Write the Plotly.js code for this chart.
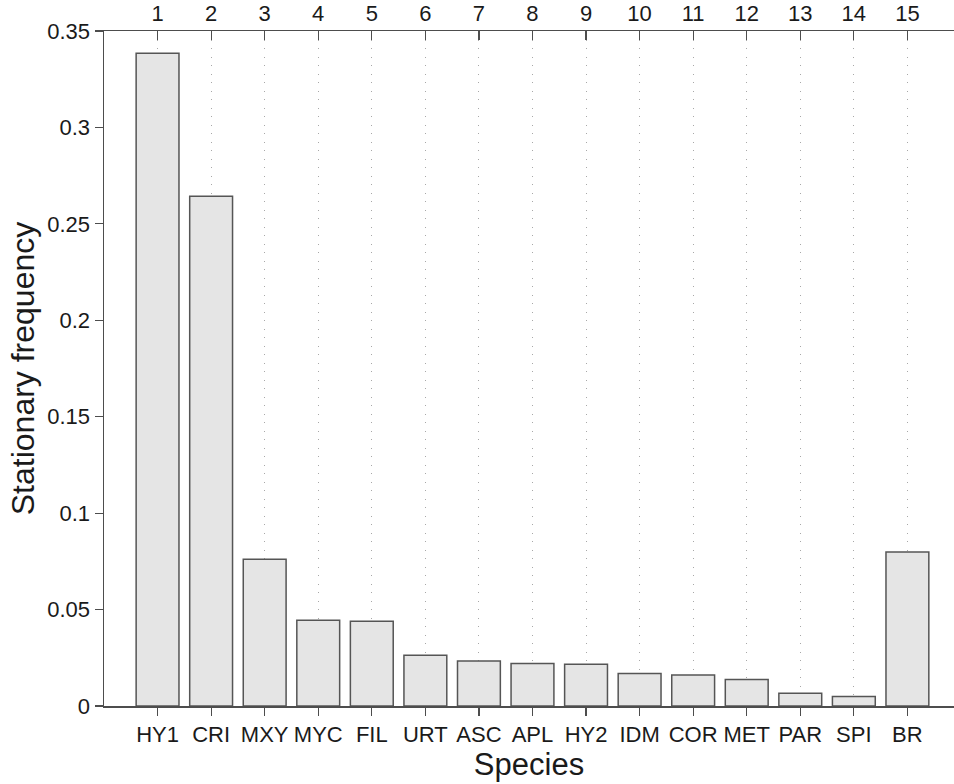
<!DOCTYPE html>
<html>
<head>
<meta charset="utf-8">
<script src="https://cdn.plot.ly/plotly-3.0.1.min.js"></script>
<style>
  html, body { margin: 0; padding: 0; background: #fff; }
  #chart { width: 954px; height: 784px; }
</style>
</head>
<body>
<div id="chart"></div>
<script>
// Stationary frequency of each species state
const species = ["HY1", "CRI", "MXY", "MYC", "FIL", "URT", "ASC", "APL", "HY2", "IDM", "COR", "MET", "PAR", "SPI", "BR"];
const stateIndex = [1, 2, 3, 4, 5, 6, 7, 8, 9, 10, 11, 12, 13, 14, 15];
const frequency = [0.3384, 0.2643, 0.0761, 0.0444, 0.0439, 0.0263, 0.0233, 0.0220, 0.0216, 0.0168, 0.0161, 0.0138, 0.0066, 0.0049, 0.0799];
const yTicks = [0, 0.05, 0.1, 0.15, 0.2, 0.25, 0.3, 0.35];
const yTickText = ["0", "0.05", "0.1", "0.15", "0.2", "0.25", "0.3", "0.35"];

const axisColor = "#4d4d4d";
const textColor = "#1a1a1a";
const font = "Liberation Sans, Arial, sans-serif";
const xRange = [0, 15.87];

const bars = {
  type: "bar",
  x: stateIndex,
  y: frequency,
  width: 0.8,
  marker: { color: "#e5e5e5", line: { color: "#555555", width: 1.5 } },
  hoverinfo: "x+y"
};

// invisible trace that anchors the numbered top axis
const topAnchor = {
  type: "scatter",
  mode: "markers",
  x: stateIndex,
  y: stateIndex.map(() => 0),
  xaxis: "x2",
  marker: { opacity: 0 },
  hoverinfo: "skip",
  showlegend: false
};

const layout = {
  width: 954,
  height: 784,
  margin: { l: 104, r: 0, t: 31, b: 78 },
  paper_bgcolor: "#ffffff",
  plot_bgcolor: "#ffffff",
  showlegend: false,
  font: { family: font, color: textColor, size: 22 },
  xaxis: {
    range: xRange,
    tickmode: "array",
    tickvals: stateIndex,
    ticktext: species,
    ticks: "outside",
    ticklen: 8,
    tickwidth: 1.2,
    tickcolor: axisColor,
    showline: true,
    linecolor: axisColor,
    linewidth: 1.5,
    showgrid: false,
    zeroline: false,
    tickfont: { family: font, size: 22, color: textColor },
    title: { text: "Species", font: { family: font, size: 31, color: textColor }, standoff: 2 }
  },
  xaxis2: {
    overlaying: "x",
    side: "top",
    anchor: "y",
    range: xRange,
    tickmode: "array",
    tickvals: stateIndex,
    ticktext: stateIndex.map(String),
    ticks: "inside",
    ticklen: 9,
    tickwidth: 1.2,
    tickcolor: axisColor,
    showline: true,
    linecolor: axisColor,
    linewidth: 1.5,
    showgrid: true,
    gridcolor: "#a8a8a8",
    gridwidth: 1,
    griddash: "1px,7.5px",
    zeroline: false,
    tickfont: { family: font, size: 22, color: textColor }
  },
  yaxis: {
    range: [0, 0.35],
    tickmode: "array",
    tickvals: yTicks,
    ticktext: yTickText,
    ticks: "outside",
    ticklen: 8,
    tickwidth: 1.2,
    tickcolor: axisColor,
    showline: true,
    linecolor: axisColor,
    linewidth: 1.5,
    showgrid: false,
    zeroline: false,
    tickfont: { family: font, size: 22, color: textColor },
    title: { text: "Stationary frequency", font: { family: font, size: 32, color: textColor }, standoff: 3 }
  }
};

Plotly.newPlot("chart", [bars, topAnchor], layout, { displayModeBar: false, staticPlot: true });
</script>
</body>
</html>
